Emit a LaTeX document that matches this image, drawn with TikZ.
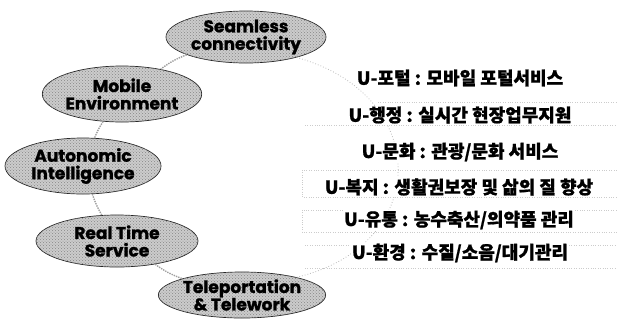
\documentclass[tikz,border=0pt]{standalone}
\usepackage{fontspec}
\newfontfamily\kr{Noto Sans CJK KR}[BoldFeatures={FakeBold=1}]
\newfontfamily\pop{Poppins}[BoldFeatures={FakeBold=1.2}]
\usetikzlibrary{shapes.geometric,patterns}
\tikzset{
  bub/.style={ellipse, draw=black!85, line width=0.7pt, fill=gray!40,
    postaction={pattern=crosshatch dots, pattern color=gray!95},
    inner sep=0pt, align=center, font=\pop\bfseries\fontsize{17}{17.5}\selectfont},
  link/.style={draw=gray!75, line width=1.4pt, densely dotted},
  arcline/.style={draw=gray!55, line width=0.8pt, dotted},
  rowbox/.style={draw=gray!40, line width=0.4pt, dotted},
  item/.style={fill=white, inner sep=1pt, font=\kr\bfseries\fontsize{18}{20}\selectfont}
}
\begin{document}
\begin{tikzpicture}[x=1pt,y=-1pt]
\useasboundingbox (0,0) rectangle (617,325);
% faint row boxes
\draw[rowbox] (378,102) -- (617,102);
\draw[rowbox] (305,125) -- (617,125);
\draw[rowbox] (302,170) rectangle (617,197);
\draw[rowbox] (302,210) rectangle (617,232);
\draw[rowbox] (305,245) -- (617,245);
\draw[rowbox] (305,268) -- (617,268);
% ellipses
\node[bub, minimum width=160pt, minimum height=52pt] (sc) at (246,37) {Seamless\\connectivity};
\node[bub, minimum width=156pt, minimum height=56pt] (me) at (122,94) {Mobile\\Environment};
\node[bub, minimum width=156pt, minimum height=56pt] (ai) at (83,166) {Autonomic\\Intelligence};
\node[bub, minimum width=162pt, minimum height=52pt] (rt) at (117,241) {Real Time\\Service};
\node[bub, minimum width=158pt, minimum height=46pt] (tt) at (242,295) {Teleportation\\\& Telework};
% connectors
\draw[link] (sc) to[bend right=8] (me);
\draw[link] (me) to[bend right=6] (ai);
\draw[link] (ai) to[bend right=6] (rt);
\draw[link] (rt) to[bend right=8] (tt);
\draw[arcline] (sc.-22) .. controls (432,95) and (432,245) .. (tt.18);
% items
\node[item] (u1) at (460,78) {U-포털 : 모바일 포털서비스};
\node[item] (u2) at (460,115) {U-행정 : 실시간 현장업무지원};
\node[item] (u3) at (460,152) {U-문화 : 관광/문화 서비스};
\node[item] (u4) at (459,187) {U-복지 : 생활권보장 및 삶의 질 향상};
\node[item] (u5) at (459,220) {U-유통 : 농수축산/의약품 관리};
\node[item] (u6) at (460,253) {U-환경 : 수질/소음/대기관리};
\end{tikzpicture}
\end{document}
